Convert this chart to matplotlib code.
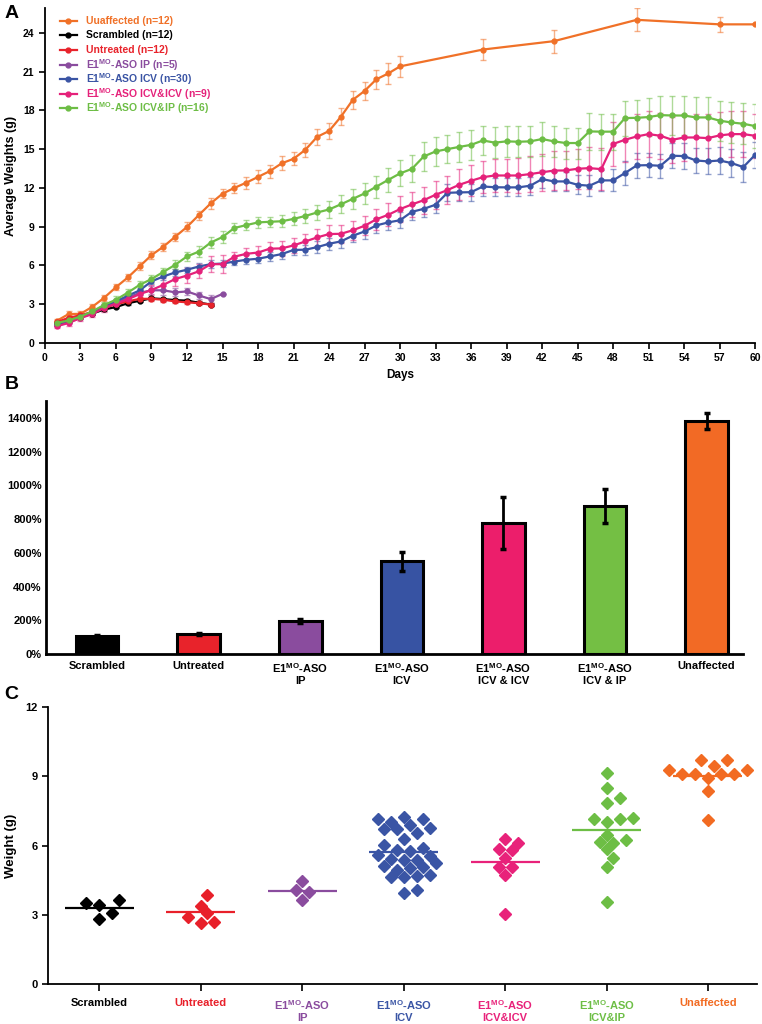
import numpy as np
import matplotlib
matplotlib.use("Agg")
import matplotlib.pyplot as plt

plt.rcParams["font.family"] = ["Liberation Sans", "DejaVu Sans"]
plt.rcParams["font.weight"] = "bold"
plt.rcParams["mathtext.fontset"] = "custom"
plt.rcParams["mathtext.rm"] = "Liberation Sans"
plt.rcParams["mathtext.bf"] = "Liberation Sans:bold"

# ---- panel A data: average weights by day ----
days_daily = list(range(1, 61))
days_orange = list(range(1, 31)) + [37, 43, 50, 57, 60]
days_short = list(range(1, 15))
days_ip = list(range(1, 16))

w_unaffected = [1.72, 2.24, 2.26, 2.80, 3.50, 4.32, 5.07, 5.93, 6.80, 7.45,
                8.22, 8.98, 9.90, 10.8, 11.55, 12.0, 12.4, 12.85, 13.3, 13.9,
                14.25, 14.95, 15.95, 16.4, 17.5, 18.8, 19.5, 20.4, 20.85, 21.4,
                22.7, 23.35, 25.0, 24.65, 24.65]
e_unaffected = [0.15, 0.2, 0.2, 0.2, 0.25, 0.25, 0.25, 0.3, 0.3, 0.3,
                0.3, 0.35, 0.35, 0.4, 0.35, 0.4, 0.45, 0.5, 0.5, 0.55,
                0.5, 0.55, 0.6, 0.6, 0.65, 0.7, 0.7, 0.75, 0.8, 0.8,
                0.8, 0.9, 0.9, 0.6, 0.0]

w_scrambled = [1.55, 1.75, 2.0, 2.27, 2.6, 2.78, 3.08, 3.27, 3.46, 3.4, 3.32, 3.28, 3.12, 2.98]
e_scrambled = [0.08, 0.08, 0.08, 0.1, 0.1, 0.1, 0.1, 0.1, 0.12, 0.12, 0.12, 0.12, 0.12, 0.12]

w_untreated = [1.62, 1.95, 2.15, 2.4, 2.72, 3.0, 3.22, 3.42, 3.42, 3.35, 3.22, 3.15, 3.08, 2.98]
e_untreated = [0.1, 0.1, 0.1, 0.12, 0.12, 0.12, 0.15, 0.15, 0.15, 0.15, 0.15, 0.15, 0.15, 0.12]

w_ip = [1.4, 1.65, 1.95, 2.3, 2.75, 3.1, 3.5, 3.88, 4.08, 4.08, 3.92, 3.99, 3.68, 3.4, 3.8]
e_ip = [0.1, 0.1, 0.1, 0.15, 0.15, 0.15, 0.2, 0.2, 0.3, 0.35, 0.3, 0.25, 0.3, 0.3, 0.0]

w_icv = [1.42, 1.72, 2.02, 2.4, 2.88, 3.22, 3.66, 4.07, 4.77, 5.15,
         5.46, 5.67, 5.92, 6.1, 6.15, 6.3, 6.44, 6.52, 6.7, 6.88,
         7.2, 7.22, 7.42, 7.68, 7.86, 8.3, 8.63, 9.1, 9.33, 9.5,
         10.15, 10.38, 10.7, 11.62, 11.65, 11.67, 12.11, 12.05, 12.04, 12.04,
         12.17, 12.68, 12.5, 12.5, 12.24, 12.17, 12.58, 12.58, 13.15, 13.74,
         13.76, 13.71, 14.49, 14.46, 14.12, 14.05, 14.12, 13.92, 13.61, 14.56]
e_icv = [0.1, 0.1, 0.1, 0.15, 0.15, 0.15, 0.2, 0.2, 0.2, 0.25,
         0.25, 0.25, 0.3, 0.3, 0.3, 0.3, 0.35, 0.35, 0.35, 0.4,
         0.4, 0.4, 0.45, 0.45, 0.5, 0.5, 0.55, 0.55, 0.6, 0.6,
         0.6, 0.6, 0.65, 0.65, 0.65, 0.65, 0.7, 0.7, 0.7, 0.7,
         0.7, 0.7, 0.75, 0.75, 0.75, 0.8, 0.8, 0.85, 0.9, 0.95,
         0.95, 0.95, 0.95, 1.0, 1.0, 1.0, 1.05, 1.1, 1.15, 1.0]

w_icvicv = [1.3, 1.55, 1.93, 2.24, 2.72, 3.05, 3.38, 3.78, 4.1, 4.5,
            4.95, 5.22, 5.55, 6.1, 6.1, 6.68, 6.9, 7.0, 7.3, 7.32,
            7.55, 7.86, 8.17, 8.43, 8.45, 8.72, 9.07, 9.57, 9.92, 10.36,
            10.72, 11.05, 11.47, 11.83, 12.24, 12.55, 12.83, 12.96, 12.96, 12.96,
            13.07, 13.21, 13.34, 13.35, 13.48, 13.53, 13.45, 15.4, 15.72, 15.98,
            16.16, 16.03, 15.72, 15.9, 15.9, 15.85, 16.06, 16.16, 16.16, 16.03]
e_icvicv = [0.15, 0.2, 0.2, 0.25, 0.3, 0.3, 0.3, 0.35, 0.4, 0.5,
            0.5, 0.55, 0.55, 0.6, 0.7, 0.4, 0.45, 0.5, 0.5, 0.55,
            0.6, 0.6, 0.65, 0.7, 0.7, 0.75, 0.75, 0.8, 0.9, 1.0,
            1.0, 1.05, 1.1, 1.1, 1.2, 1.2, 1.25, 1.3, 1.3, 1.35,
            1.4, 1.45, 1.5, 1.5, 1.55, 1.6, 1.65, 1.7, 1.7, 1.75,
            1.75, 1.8, 1.8, 1.85, 1.85, 1.85, 1.8, 1.8, 1.75, 1.7]

w_icvip = [1.55, 1.75, 2.05, 2.45, 2.95, 3.35, 3.9, 4.5, 4.95, 5.5,
           6.05, 6.7, 7.07, 7.77, 8.2, 8.9, 9.12, 9.33, 9.38, 9.42,
           9.6, 9.83, 10.1, 10.33, 10.73, 11.15, 11.57, 12.1, 12.62, 13.12,
           13.47, 14.43, 14.82, 15.0, 15.17, 15.33, 15.67, 15.5, 15.6, 15.57,
           15.6, 15.78, 15.6, 15.47, 15.47, 16.37, 16.35, 16.35, 17.4, 17.42,
           17.48, 17.63, 17.6, 17.6, 17.45, 17.45, 17.2, 17.06, 16.96, 16.78]
e_icvip = [0.15, 0.15, 0.2, 0.2, 0.2, 0.25, 0.25, 0.3, 0.3, 0.3,
           0.35, 0.35, 0.4, 0.45, 0.45, 0.35, 0.4, 0.4, 0.4, 0.45,
           0.5, 0.55, 0.6, 0.65, 0.7, 0.75, 0.8, 0.85, 0.9, 1.0,
           1.05, 1.1, 1.1, 1.1, 1.15, 1.15, 1.15, 1.2, 1.2, 1.2,
           1.2, 1.3, 1.2, 1.2, 1.2, 1.4, 1.4, 1.4, 1.35, 1.4,
           1.45, 1.5, 1.5, 1.5, 1.55, 1.55, 1.55, 1.6, 1.6, 1.7]

# ---- panel B data: percent weight gain ----
bar_labels = ["Scrambled", "Untreated", "E1$^{\\mathbf{MO}}$-ASO\nIP", "E1$^{\\mathbf{MO}}$-ASO\nICV",
              "E1$^{\\mathbf{MO}}$-ASO\nICV & ICV", "E1$^{\\mathbf{MO}}$-ASO\nICV & IP", "Unaffected"]
gain_pct = [107, 119, 198, 550, 777, 878, 1382]
gain_err = [6, 8, 12, 55, 155, 100, 45]

# ---- panel C data: individual weights (g) ----
c_labels = ["Scrambled", "Untreated", "E1$^{\\mathbf{MO}}$-ASO\nIP", "E1$^{\\mathbf{MO}}$-ASO\nICV",
            "E1$^{\\mathbf{MO}}$-ASO\nICV&ICV", "E1$^{\\mathbf{MO}}$-ASO\nICV&IP", "Unaffected"]
c_scrambled = [3.52, 3.42, 3.64, 3.09, 2.81]
c_untreated = [3.88, 3.39, 2.91, 3.10, 2.65, 2.70]
c_ip = [4.46, 4.07, 4.00, 3.64]
c_icv = [6.91, 7.14, 7.14, 7.03, 7.24, 6.70, 6.70, 6.78, 6.55, 6.28,
         6.02, 5.90, 5.54, 5.80, 5.76, 5.58, 5.37, 5.37, 5.40, 5.11,
         5.25, 5.08, 5.01, 4.96, 4.72, 4.62, 4.62, 4.69, 3.95, 4.07]
c_icvicv = [6.28, 6.12, 5.87, 5.80, 5.48, 5.08, 5.08, 4.72, 3.03]
c_icvip = [9.16, 8.50, 8.08, 7.85, 7.21, 7.03, 7.13, 7.14, 6.45, 6.16,
           6.12, 6.26, 5.83, 5.48, 5.08, 3.56]
c_unaffected = [9.70, 9.70, 9.44, 9.29, 9.26, 9.12, 9.08, 9.08, 9.12, 8.93, 8.35, 7.10]

col_black = "#000000"
col_red = "#E8232B"
col_purple = "#8A4C9E"
col_blue = "#3A54A4"
col_pink = "#E5217A"
col_green = "#6DBD45"
col_orange = "#F07128"

fig = plt.figure(figsize=(7.62, 10.24), dpi=100)

# ================= Panel A =================
axA = fig.add_axes([0.059, 0.665, 0.932, 0.327])
series = [
    (days_orange, w_unaffected, e_unaffected, col_orange, "Uuaffected", "(n=12)"),
    (days_short, w_scrambled, e_scrambled, col_black, "Scrambled", "(n=12)"),
    (days_short, w_untreated, e_untreated, col_red, "Untreated", "(n=12)"),
    (days_ip, w_ip, e_ip, col_purple, "E1$^{\\mathbf{MO}}$-ASO IP", "(n=5)"),
    (days_daily, w_icv, e_icv, col_blue, "E1$^{\\mathbf{MO}}$-ASO ICV", "(n=30)"),
    (days_daily, w_icvicv, e_icvicv, col_pink, "E1$^{\\mathbf{MO}}$-ASO ICV&ICV", "(n=9)"),
    (days_daily, w_icvip, e_icvip, col_green, "E1$^{\\mathbf{MO}}$-ASO ICV&IP", "(n=16)"),
]
for x, y, e, c, lab, n in series:
    axA.errorbar(x, y, yerr=e, fmt="none", ecolor=c, alpha=0.55, elinewidth=1.0,
                 capsize=2.5, capthick=1.0, zorder=2)
    axA.plot(x, y, "-o", color=c, lw=1.6, ms=3.5, zorder=3)

# hand-placed legend rows with equal spacing (axes fraction)
for k, (x, y, e, c, lab, n) in enumerate(series):
    ry = 0.962 - k * 0.0435
    axA.plot([0.021, 0.045], [ry, ry], color=c, lw=1.6, transform=axA.transAxes, clip_on=False)
    axA.plot([0.033], [ry], "o", color=c, ms=3.5, transform=axA.transAxes, clip_on=False)
    t = axA.text(0.058, ry, lab + " " + n, color=c, fontsize=7.5, fontweight="bold",
                 va="center", ha="left", transform=axA.transAxes)

axA.set_xlim(0, 60)
axA.set_ylim(0, 25.9)
axA.set_xticks(range(0, 61, 3))
axA.set_yticks(range(0, 25, 3))
for s in ["top", "right"]:
    axA.spines[s].set_visible(False)
for s in ["left", "bottom"]:
    axA.spines[s].set_linewidth(1.3)
axA.tick_params(width=1.2, length=4, labelsize=7.5)
axA.set_xlabel("Days", fontsize=8.5, fontweight="bold", labelpad=4)
axA.set_ylabel("Average Weights (g)", fontsize=9, fontweight="bold", labelpad=4)

# ================= Panel B =================
axB = fig.add_axes([0.0604, 0.3613, 0.915, 0.247])
bar_cols = [col_black, col_red, col_purple, "#3753A3", "#EC1E6B", "#74BF44", "#F26A25"]
xb = np.arange(len(gain_pct))
axB.bar(xb, gain_pct, width=0.42, color=bar_cols, edgecolor="black", linewidth=2.2, zorder=2)
axB.errorbar(xb, gain_pct, yerr=gain_err, fmt="none", ecolor="black", elinewidth=2.0,
             capsize=2.5, capthick=2.5, zorder=3)
axB.set_xlim(-0.502, 6.36)
axB.set_ylim(0, 1500)
axB.set_yticks(range(0, 1401, 200))
axB.set_yticklabels([f"{v}%" for v in range(0, 1401, 200)])
axB.set_xticks(xb)
axB.set_xticklabels(bar_labels)
for s in ["top", "right"]:
    axB.spines[s].set_visible(False)
for s in ["left", "bottom"]:
    axB.spines[s].set_linewidth(2.0)
axB.tick_params(axis="x", length=0, pad=5)
axB.tick_params(axis="y", length=0, pad=3)
for t in axB.get_xticklabels() + axB.get_yticklabels():
    t.set_fontsize(8)
    t.set_fontweight("bold")

# ================= Panel C =================
axC = fig.add_axes([0.063, 0.039, 0.930, 0.2705])
groups = [c_scrambled, c_untreated, c_ip, c_icv, c_icvicv, c_icvip, c_unaffected]
c_cols = [col_black, "#E8202A", col_purple, "#3A55A5", "#E8227A", "#6DBE45", "#F26B22"]

XPX, YPX, DIAM = 101.5, 23.1, 13.0


def swarm(vals):
    """Simple beeswarm offsets (in category units) for diamond markers."""
    vals = np.asarray(vals)
    order = np.argsort(vals)
    placed = []
    offs = np.zeros(len(vals))
    step = DIAM / 2.0
    cands = [0.0]
    for k in range(1, 14):
        cands += [k * step, -k * step]
    for i in order:
        ypx = vals[i] * YPX
        for c in cands:
            if all(abs(c - px) + abs(ypx - py) >= DIAM for px, py in placed):
                break
        placed.append((c, ypx))
        offs[i] = c / XPX
    return offs


for i, (g, c) in enumerate(zip(groups, c_cols)):
    off = swarm(g)
    axC.plot(i + off, g, "D", color=c, ms=6.3, mec=c, lw=0, zorder=3)
    m = np.mean(g)
    axC.hlines(m, i - 0.34, i + 0.34, color=c, lw=1.6, zorder=4)

axC.set_xlim(-0.507, 6.48)
axC.set_ylim(0, 12)
axC.set_yticks([0, 3, 6, 9, 12])
axC.set_xticks(range(len(groups)))
axC.set_xticklabels(c_labels)
for t, c in zip(axC.get_xticklabels(), c_cols):
    t.set_color(c)
for t in axC.get_xticklabels() + axC.get_yticklabels():
    t.set_fontsize(8)
    t.set_fontweight("bold")
for s in ["top", "right"]:
    axC.spines[s].set_visible(False)
for s in ["left", "bottom"]:
    axC.spines[s].set_linewidth(1.3)
axC.tick_params(axis="x", width=1.2, length=5, pad=5)
axC.tick_params(axis="y", width=1.2, length=4)
axC.set_ylabel("Weight (g)", fontsize=9.5, fontweight="bold", labelpad=6)

# panel letters
fig.text(0.006, 0.995, "A", fontsize=14, fontweight="bold", va="top")
fig.text(0.006, 0.633, "B", fontsize=14, fontweight="bold", va="top")
fig.text(0.006, 0.330, "C", fontsize=14, fontweight="bold", va="top")

fig.savefig("out.png", dpi=100)
